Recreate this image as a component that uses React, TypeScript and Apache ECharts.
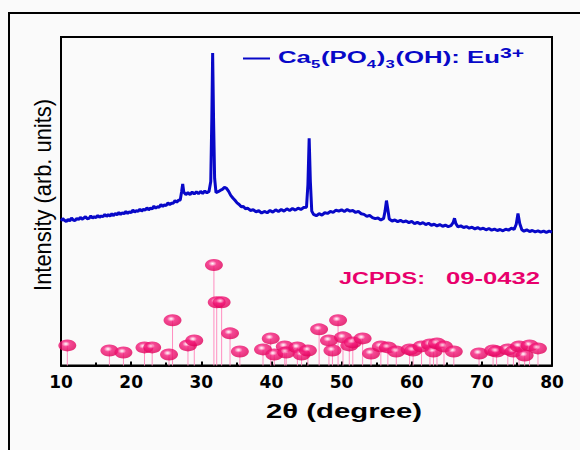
import React, { useEffect, useRef } from "react";
import * as echarts from "echarts";

// Measured XRD pattern (2θ in degrees, intensity in arbitrary units)
const xrdAngle = [
  10.0, 10.25, 10.5, 10.75, 11.0, 11.25, 11.5, 11.75, 12.0, 12.25, 12.5, 12.75, 13.0, 13.25, 13.5, 13.75,
  14.0, 14.25, 14.5, 14.75, 15.0, 15.25, 15.5, 15.75, 16.0, 16.25, 16.5, 16.75, 17.0, 17.25, 17.5, 17.75,
  18.0, 18.25, 18.5, 18.75, 19.0, 19.25, 19.5, 19.75, 20.0, 20.25, 20.5, 20.75, 21.0, 21.25, 21.5, 21.75,
  22.0, 22.25, 22.5, 22.75, 23.0, 23.25, 23.5, 23.75, 24.0, 24.25, 24.5, 24.75, 25.0, 25.25, 25.5, 25.75,
  26.0, 26.25, 26.5, 26.75, 27.0, 27.2, 27.35, 27.5, 27.8, 28.1, 28.4, 28.7, 29.0, 29.3, 29.6, 29.9, 30.2, 30.5,
  30.8, 31.1, 31.35, 31.5, 31.62, 31.75, 31.9, 32.1, 32.4, 32.7, 33.0, 33.3, 33.6, 33.9, 34.2, 34.5,
  34.8, 35.1, 35.4, 35.7, 36.0, 36.3, 36.6, 37.0, 37.4, 37.8, 38.2, 38.6, 39.0, 39.4, 39.8, 40.2,
  40.6, 41.0, 41.4, 41.8, 42.2, 42.6, 43.0, 43.4, 43.8, 44.2, 44.6, 45.0, 45.2, 45.38, 45.55, 45.75,
  46.0, 46.4, 46.8, 47.2, 47.6, 48.0, 48.4, 48.8, 49.2, 49.6, 50.0, 50.4, 50.8, 51.2, 51.6, 52.0,
  52.4, 52.8, 53.2, 53.6, 54.0, 54.4, 54.8, 55.2, 55.6, 56.0, 56.2, 56.4, 56.6, 56.8, 57.2, 57.6,
  58.0, 58.4, 58.8, 59.2, 59.6, 60.0, 60.4, 60.8, 61.2, 61.6, 62.0, 62.4, 62.8, 63.2, 63.6, 64.0,
  64.4, 64.8, 65.2, 65.6, 65.9, 66.1, 66.3, 66.6, 67.0, 67.4, 67.8, 68.2, 68.6, 69.0, 69.4, 69.8,
  70.2, 70.6, 71.0, 71.4, 71.8, 72.2, 72.6, 73.0, 73.4, 73.8, 74.2, 74.6, 74.9, 75.15, 75.4, 75.7,
  76.0, 76.4, 76.8, 77.2, 77.6, 78.0, 78.4, 78.8, 79.2, 79.6, 80.0,
];
const xrdIntensity = [
  44.0, 44.7, 44.2, 43.8, 44.5, 44.0, 44.9, 44.3, 44.1, 44.8, 44.4, 45.1, 44.5, 44.9, 45.3, 44.7,
  44.8, 45.5, 44.9, 45.3, 45.0, 45.7, 45.1, 45.5, 45.3, 46.0, 45.4, 45.9, 45.5, 46.2, 45.6, 46.3,
  45.9, 46.6, 46.0, 46.5, 46.2, 46.9, 46.3, 46.8, 46.5, 47.3, 46.7, 47.1, 46.9, 47.6, 47.0, 47.5,
  47.3, 48.0, 47.4, 47.9, 47.7, 48.5, 47.9, 48.3, 48.2, 49.0, 48.4, 48.9, 48.7, 49.5, 49.0, 49.4,
  49.4, 50.2, 49.7, 50.3, 50.4, 53.0, 55.3, 52.8, 52.0, 52.6, 52.0, 52.8, 52.2, 52.9, 52.3, 53.0, 52.4, 53.1,
  52.6, 53.0, 56.0, 75.0, 95.1, 75.0, 57.0, 52.6, 52.9, 53.3, 53.6, 54.2, 53.9, 53.0, 51.8, 51.0,
  50.3, 49.5, 49.0, 48.3, 48.4, 47.7, 47.9, 47.2, 47.4, 46.8, 47.1, 46.4, 46.9, 46.5, 47.2, 46.7,
  47.4, 46.9, 47.5, 47.0, 47.7, 47.2, 47.8, 47.3, 47.9, 47.5, 48.1, 48.2, 55.0, 69.2, 56.0, 47.0,
  46.0, 45.6, 46.2, 45.8, 46.5, 46.3, 46.9, 46.6, 47.3, 47.0, 47.4, 46.9, 47.5, 47.0, 47.2, 46.6,
  46.9, 46.2, 46.0, 45.4, 45.7, 45.0, 44.7, 44.9, 44.3, 44.8, 47.0, 50.2, 47.5, 44.6, 44.0, 44.3,
  43.8, 44.2, 43.7, 44.0, 43.5, 43.9, 43.2, 43.6, 43.1, 43.5, 42.9, 43.3, 42.7, 43.0, 42.5, 42.9,
  42.4, 42.7, 42.3, 42.6, 43.5, 44.8, 43.2, 42.2, 42.5, 42.0, 42.3, 41.8, 42.1, 41.6, 42.0, 41.5,
  41.8, 41.3, 41.7, 41.2, 41.5, 41.1, 41.4, 41.0, 41.5, 41.2, 41.8, 41.4, 43.0, 46.3, 43.2, 41.3,
  40.9, 41.3, 40.8, 41.1, 40.7, 41.0, 40.6, 40.9, 40.5, 40.9, 40.6,
];

// Reference pattern JCPDS 09-0432 (2θ, relative intensity)
const refAngle = [
  10.9, 16.9, 18.9, 21.9, 23.0, 25.4, 25.9, 28.1, 29.0, 31.8, 32.2, 32.9, 34.1, 35.5, 38.8, 39.9,
  40.4, 41.9, 42.1, 43.7, 44.3, 45.2, 46.8, 48.2, 48.7, 49.5, 50.2, 51.1, 51.6, 53.0, 54.2, 55.6,
  56.6, 57.8, 59.7, 60.2, 61.4, 62.6, 63.1, 63.6, 64.6, 66.0, 69.6, 71.6, 72.1, 73.7, 74.5, 75.3,
  76.1, 76.8, 78.0,
];
const refIntensity = [
  20, 15, 13, 18, 18, 11, 45, 20, 25, 100, 63, 63, 32, 14, 16, 27,
  11, 19, 13, 18, 11, 15, 36, 25, 15, 45, 28, 20, 23, 27, 12, 19,
  18, 14, 16, 15, 19, 21, 14, 22, 19, 14, 12, 15, 14, 16, 14, 19,
  10, 20, 17,
];

// Legend label pieces: [text, font size, vertical offset]
const legendParts: [string, number, number][] = [
  ["Ca", 17, 0],
  ["5", 11, 7.5],
  ["(PO", 17, 0],
  ["4", 11, 7.5],
  [")", 17, 0],
  ["3", 11, 7.5],
  ["(OH): Eu", 17, 0],
  ["3+", 14, -3.5],
];
const refLabelParts = ["JCPDS:", "09-0432"];
const xTitle = "2θ (degree)";
const yTitle = "Intensity (arb. units)";

const BLUE = "#0808c8";
const PINK = "#e8006c";
const FONT = "Liberation Sans";

const measureCtx = document.createElement("canvas").getContext("2d")!;
function textWidth(text: string, size: number, weight: string) {
  measureCtx.font = `${weight} ${size}px "${FONT}"`;
  return measureCtx.measureText(text).width;
}

function buildGraphic() {
  const elements: any[] = [];

  // outer figure frame
  elements.push({
    type: "rect",
    shape: { x: 9, y: 13, width: 620, height: 500 },
    style: { fill: "none", stroke: "#000", lineWidth: 2 },
    silent: true,
  });

  // legend sample line
  elements.push({
    type: "line",
    shape: { x1: 243, y1: 58.5, x2: 270, y2: 58.5 },
    style: { stroke: BLUE, lineWidth: 2 },
  });

  // legend label with sub/superscripts
  let cx = 0;
  const children: any[] = [];
  legendParts.forEach(([t, size, dy]) => {
    children.push({
      type: "text",
      x: cx,
      y: dy,
      style: {
        text: t,
        fontSize: size,
        fontFamily: FONT,
        fontWeight: "bold",
        fill: BLUE,
        align: "left",
        verticalAlign: "middle",
      },
    });
    cx += textWidth(t, size, "bold") + (size < 17 ? 0.5 : 0);
  });
  elements.push({
    type: "group",
    x: 278,
    y: 57,
    scaleX: (525 - 278) / cx,
    children,
  });

  // JCPDS card label
  const refSpans: [number, number][] = [
    [339, 425],
    [446, 540],
  ];
  refLabelParts.forEach((t, i) => {
    const [a, b] = refSpans[i];
    elements.push({
      type: "text",
      x: a,
      y: 278,
      scaleX: (b - a) / textWidth(t, 17, "bold"),
      style: {
        text: t,
        fontSize: 17,
        fontFamily: FONT,
        fontWeight: "bold",
        fill: PINK,
        align: "left",
        verticalAlign: "middle",
      },
    });
  });

  // x-axis title
  elements.push({
    type: "text",
    x: 344,
    y: 411,
    scaleX: 156 / textWidth(xTitle, 20, "bold"),
    style: {
      text: xTitle,
      fontSize: 20,
      fontFamily: FONT,
      fontWeight: "bold",
      fill: "#000",
      align: "center",
      verticalAlign: "middle",
    },
  });

  // y-axis title (slightly condensed)
  elements.push({
    type: "text",
    x: 43,
    y: 195,
    rotation: Math.PI / 2,
    scaleX: 192 / textWidth(yTitle, 24, "normal"),
    style: {
      text: yTitle,
      fontSize: 24,
      fontFamily: FONT,
      fontWeight: "normal",
      fill: "#000",
      align: "center",
      verticalAlign: "middle",
    },
  });

  return elements;
}

export default function App() {
  const ref = useRef<HTMLDivElement>(null);

  useEffect(() => {
    const chart = echarts.init(ref.current!, null, { renderer: "svg" });

    const xrdData = xrdAngle.map((a, i) => [a, xrdIntensity[i]]);
    const refData = refAngle.map((a, i) => [a, refIntensity[i]]);

    const sphere = new echarts.graphic.RadialGradient(0.42, 0.38, 0.6, [
      { offset: 0, color: "#ffffff" },
      { offset: 0.13, color: "#ffb8d6" },
      { offset: 0.38, color: "#f41c7c" },
      { offset: 1, color: "#e0005a" },
    ]);

    chart.setOption({
      animation: false,
      backgroundColor: "#fafafa",
      grid: {
        show: true,
        left: 61,
        right: 28,
        top: 37,
        bottom: 84.5,
        borderColor: "#000",
        borderWidth: 2,
        backgroundColor: "transparent",
      },
      xAxis: {
        type: "value",
        min: 10,
        max: 80,
        interval: 10,
        axisLine: { show: true, onZero: false, lineStyle: { color: "#000", width: 2 } },
        axisTick: { show: true, inside: true, length: 4, lineStyle: { color: "#000", width: 2 } },
        minorTick: { show: true, splitNumber: 2, length: 3, lineStyle: { color: "#000", width: 2 } },
        splitLine: { show: false },
        axisLabel: {
          color: "#000",
          fontFamily: "DejaVu Sans",
          fontWeight: "bold",
          fontSize: 17,
          margin: 8,
          showMinLabel: true,
          showMaxLabel: true,
        },
      },
      yAxis: [
        { type: "value", min: 0, max: 100, show: false, splitLine: { show: false } },
        { type: "value", min: 0, max: 327, show: false, splitLine: { show: false } },
      ],
      series: [
        {
          name: "XRD",
          type: "line",
          yAxisIndex: 0,
          data: xrdData,
          showSymbol: false,
          lineStyle: { color: BLUE, width: 3 },
          z: 3,
        },
        {
          name: "JCPDS sticks",
          type: "bar",
          yAxisIndex: 1,
          data: refData,
          barWidth: 1,
          itemStyle: { color: "#ff8ec0" },
          z: 2,
        },
        {
          name: "JCPDS",
          type: "scatter",
          yAxisIndex: 1,
          data: refData,
          symbol: "circle",
          symbolSize: [18, 12],
          itemStyle: { color: sphere },
          z: 4,
        },
      ],
      graphic: buildGraphic(),
    });

    return () => chart.dispose();
  }, []);

  return (
    <div
      ref={ref}
      style={{ position: "fixed", left: 0, top: 0, width: 580, height: 450 }}
    />
  );
}
